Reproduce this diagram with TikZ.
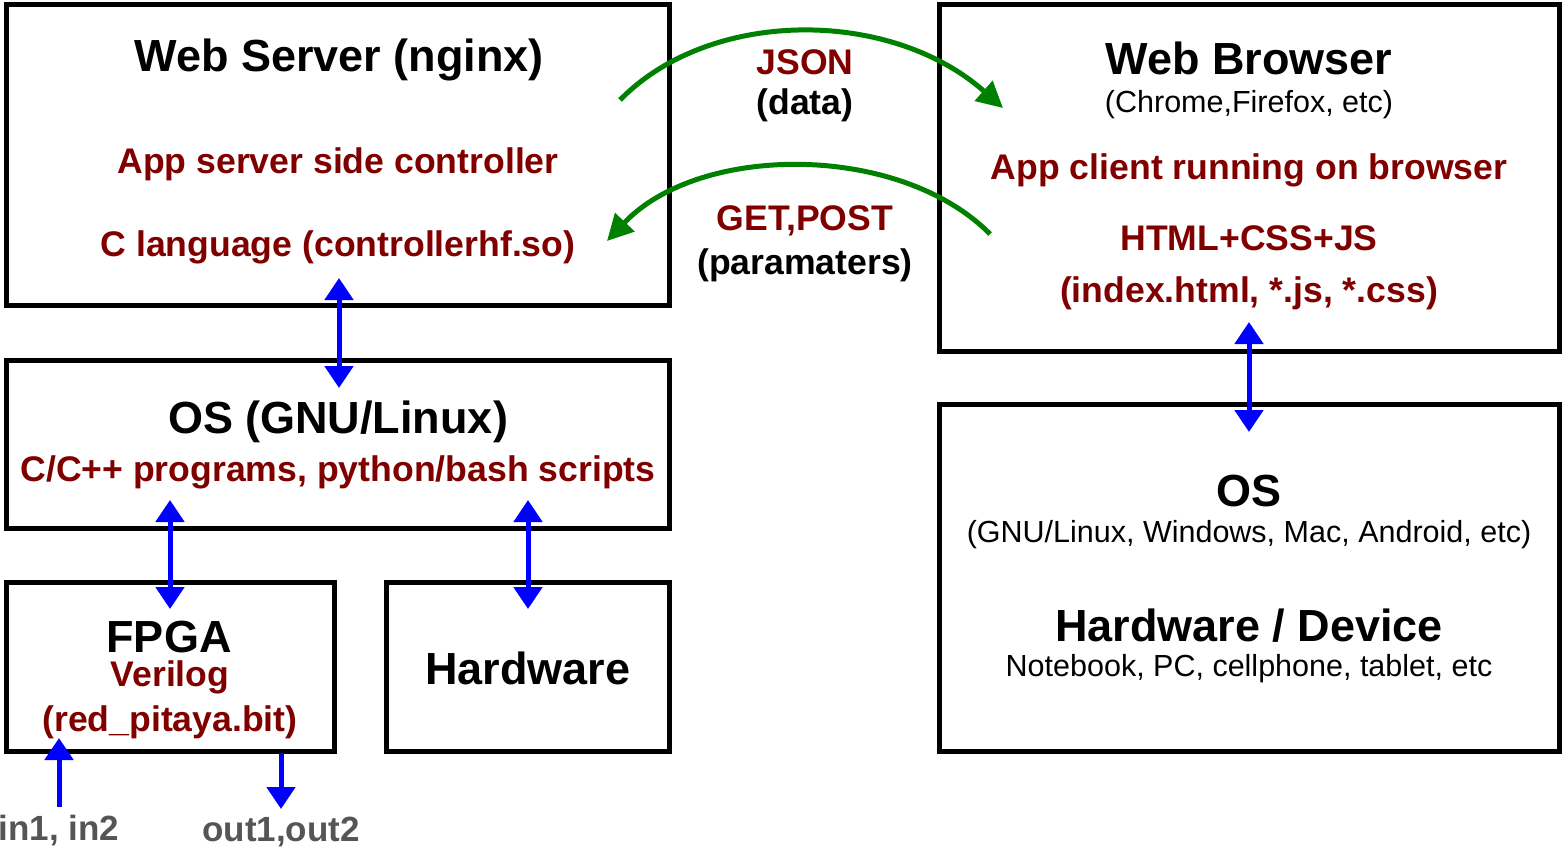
\documentclass[tikz,border=0pt]{standalone}
\usepackage{fontspec}
\setmainfont{Liberation Sans}
\usetikzlibrary{arrows.meta}
\definecolor{dred}{RGB}{128,0,0}
\definecolor{dgray}{RGB}{85,85,85}
\definecolor{dgreen}{RGB}{0,128,0}
\newcommand{\fsbig}{\fontsize{45}{50}\selectfont\bfseries}
\newcommand{\fsmid}{\fontsize{35.6}{40}\selectfont\bfseries}
\newcommand{\fsgry}{\fontsize{35}{40}\selectfont\bfseries}
\newcommand{\fsreg}{\fontsize{30.5}{34}\selectfont}
\tikzset{
  boxx/.style={draw=black, line width=5pt},
  txt/.style={inner sep=0pt, anchor=center},
  big/.style={txt, font=\fsbig},
  mid/.style={txt, font=\fsmid, text=dred},
  reg/.style={txt, font=\fsreg},
  gry/.style={txt, font=\fsgry, text=dgray},
  bluearr/.style={draw=blue, line width=5pt, {Triangle[length=22pt,width=28pt]}-{Triangle[length=22pt,width=28pt]}},
  bluearr1/.style={draw=blue, line width=5pt, -{Triangle[length=22pt,width=28pt]}},
  greenarr/.style={draw=dgreen, line width=5pt, -{Triangle[length=26pt,width=26pt]}},
}
\begin{document}
\begin{tikzpicture}[x=1pt,y=-1pt]
\useasboundingbox (0,0) rectangle (1563,848);
% boxes
\draw[boxx] (6,5) rectangle (669,305);
\draw[boxx] (6,360) rectangle (669,528);
\draw[boxx] (6,582) rectangle (334,751);
\draw[boxx] (386,582) rectangle (669,751);
\draw[boxx] (939,5) rectangle (1559,351);
\draw[boxx] (939,404) rectangle (1559,751);
% texts left
\node[big] (ws) at (339,60) {Web Server (nginx)};
\node[mid] (ws1) at (338,164) {App server side controller};
\node[mid] (ws2) at (338,247) {C language (controllerhf.so)};
\node[big] (os) at (338,422) {OS (GNU/Linux)};
\node[mid] (os1) at (338,472) {C/C++ programs, python/bash scripts};
\node[big] (fp) at (169,637) {FPGA};
\node[mid] (fp1) at (170,677) {Verilog};
\node[mid] (fp2) at (170,722) {(red\_pitaya.bit)};
\node[big] (hw) at (528,668) {Hardware};
% texts right
\node[big] (wb) at (1249,58) {Web Browser};
\node[reg] (wb1) at (1249,105) {(Chrome,Firefox, etc)};
\node[mid] (wb2) at (1249,170) {App client running on browser};
\node[mid] (wb3) at (1249,238) {HTML+CSS+JS};
\node[mid] (wb4) at (1249,293) {(index.html, *.js, *.css)};
\node[big] (ros) at (1249,491) {OS};
\node[reg] (ros1) at (1249,535) {(GNU/Linux, Windows, Mac, Android, etc)};
\node[big] (rhw) at (1249,626) {Hardware / Device};
\node[reg] (rhw1) at (1249,669) {Notebook, PC, cellphone, tablet, etc};
% middle labels
\node[mid] (json) at (805,62) {JSON};
\node[mid, text=black] (data) at (805,105) {(data)};
\node[mid] (get) at (805,221) {GET,POST};
\node[mid, text=black] (par) at (805,265) {(paramaters)};
% bottom labels
\node[gry] (in) at (59,831) {in1, in2};
\node[gry] (out) at (281,832) {out1,out2};
% coordinates
\coordinate (a1) at (339,278);
\coordinate (a2) at (339,388);
\coordinate (b1) at (170,500);
\coordinate (b2) at (170,609);
\coordinate (c1) at (528,500);
\coordinate (c2) at (528,609);
\coordinate (d1) at (1249,322);
\coordinate (d2) at (1249,432);
\coordinate (e1) at (59,807);
\coordinate (e2) at (59,738);
\coordinate (f1) at (281,753);
\coordinate (f2) at (281,809);
\coordinate (g1) at (620,100);
\coordinate (g2) at (1003,108);
\coordinate (h1) at (990,234);
\coordinate (h2) at (607,241);
% arrows
\draw[bluearr] (a1) -- (a2);
\draw[bluearr] (b1) -- (b2);
\draw[bluearr] (c1) -- (c2);
\draw[bluearr] (d1) -- (d2);
\draw[bluearr1] (e1) -- (e2);
\draw[bluearr1] (f1) -- (f2);
\draw[greenarr] (g1) .. controls (710,8) and (890,8) .. (g2);
\draw[greenarr] (h1) .. controls (900,143) and (700,143) .. (h2);
\end{tikzpicture}
\end{document}
